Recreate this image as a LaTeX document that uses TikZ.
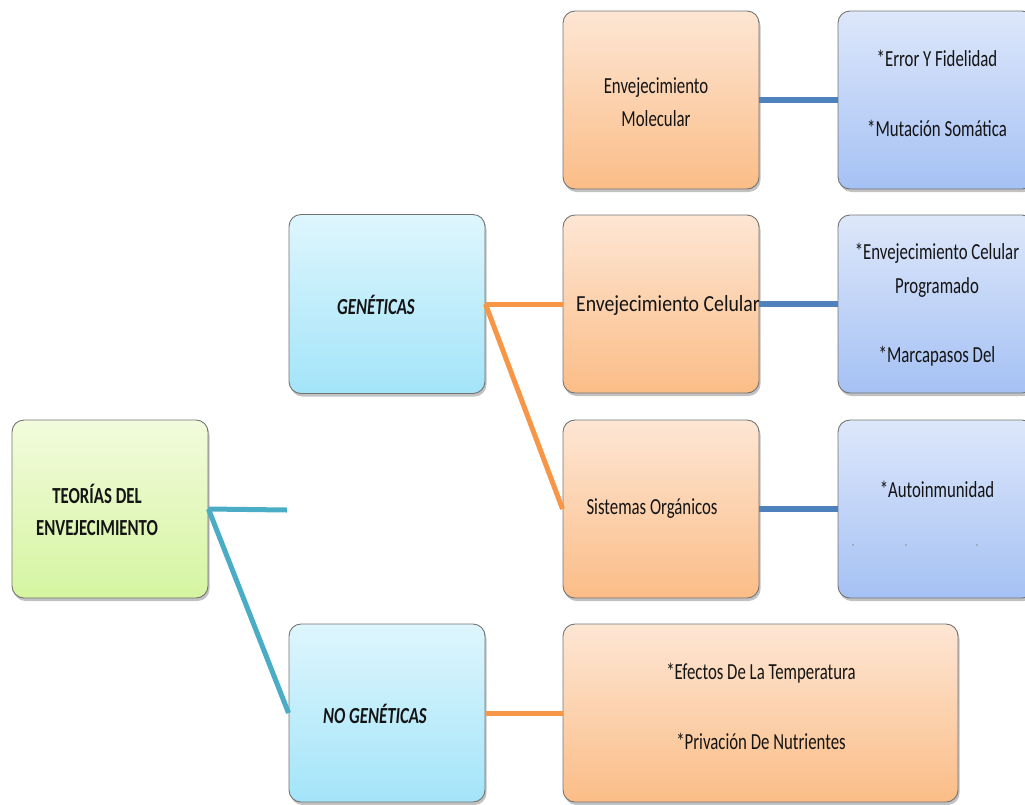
\documentclass[tikz,border=0pt]{standalone}
\usepackage{fontspec}
\setmainfont{Carlito}
\newfontfamily\cnd[FakeStretch=0.73]{Carlito}
\newfontfamily\cndw[FakeStretch=0.86]{Carlito}
\usetikzlibrary{shadows,calc}
\definecolor{grtop}{HTML}{F2FBDD}
\definecolor{grbot}{HTML}{D5F5A0}
\definecolor{cytop}{HTML}{DEF6FD}
\definecolor{cybot}{HTML}{A3E4F9}
\definecolor{ortop}{HTML}{FDE6D4}
\definecolor{orbot}{HTML}{FBBD87}
\definecolor{lvtop}{HTML}{DDE7FA}
\definecolor{lvbot}{HTML}{A5C1F4}
\definecolor{tealc}{HTML}{4BACC6}
\definecolor{orc}{HTML}{F79646}
\definecolor{blc}{HTML}{4F81BD}
\tikzset{
  box/.style={rounded corners=12pt, draw=black!55, line width=0.9pt,
    minimum width=196pt, minimum height=178pt, inner sep=0pt,
    drop shadow={shadow xshift=1.5pt, shadow yshift=-3pt, opacity=0.4, fill=black!60}},
  gbox/.style={box, top color=grtop, bottom color=grbot},
  cbox/.style={box, top color=cytop, bottom color=cybot},
  obox/.style={box, top color=ortop, bottom color=orbot},
  lbox/.style={box, top color=lvtop, bottom color=lvbot},
  txt/.style={font=\cnd\fontsize{23}{34}\selectfont, align=center, inner sep=0pt, text=black!92},
  tline/.style={draw=tealc, line width=5pt},
  oline/.style={draw=orc, line width=5pt},
  bline/.style={draw=blc, line width=6pt},
  dotm/.style={circle, fill=black!45, inner sep=0pt, minimum size=1.6pt},
}
\begin{document}
\begin{tikzpicture}[x=1pt,y=-1pt]
\useasboundingbox (0,0) rectangle (1025,804);
\clip (0,0) rectangle (1025,804);
% boxes
\node[gbox] (teo) at (110,509) {};
\node[cbox, minimum height=179pt] (gen) at (387,304) {};
\node[cbox] (nog) at (387,713) {};
\node[obox] (mol) at (661,100) {};
\node[obox] (cel) at (661,304) {};
\node[obox] (sis) at (661,509) {};
\node[obox, minimum width=395pt] (tmp) at (760.5,713) {};
\node[lbox] (r1) at (936,100) {};
\node[lbox] (r2) at (936,304) {};
\node[lbox] (r3) at (936,509) {};
% texts
\node[txt, font=\cnd\fontsize{23}{32}\selectfont\bfseries] (teot) at (97,510) {TEORÍAS DEL\\ENVEJECIMIENTO};
\node[txt, font=\cnd\fontsize{23}{34}\selectfont\bfseries\itshape] (gent) at (376,305) {GENÉTICAS};
\node[txt, font=\cnd\fontsize{23}{34}\selectfont\bfseries\itshape] (nogt) at (375,714) {NO GENÉTICAS};
\node[txt, font=\cnd\fontsize{23}{33}\selectfont] (molt) at (656,102) {Envejecimiento\\Molecular};
\node[txt, font=\cndw\fontsize{23}{34}\selectfont] (celt) at (668,305) {Envejecimiento Celular};
\node[txt] (sist) at (652,509) {Sistemas Orgánicos};
\node[txt] (tmpt) at (761,706) {*Efectos De La Temperatura\\[36pt]*Privación De Nutrientes};
\node[txt] (r1t) at (937,93) {*Error Y Fidelidad\\[36pt]*Mutación Somática};
\node[txt] (r2t) at (937,305) {*Envejecimiento Celular\\Programado\\[35pt]*Marcapasos Del};
\node[txt] (r3t) at (937,489) {*Autoinmunidad};
\node[dotm] (d1) at (853,545) {};
\node[dotm] (d2) at (906,545) {};
\node[dotm] (d3) at (977,545) {};
% connectors
\coordinate (stub) at (287,510);
\draw[tline] (teo.east) -- (stub);
\draw[tline] (teo.east) -- (nog.west);
\draw[oline] (gen.east) -- (cel.west);
\draw[oline] (gen.east) -- (sis.west);
\draw[oline] (nog.east) -- (tmp.west);
\draw[bline] (mol.east) -- (r1.west);
\draw[bline] (cel.east) -- (r2.west);
\draw[bline] (sis.east) -- (r3.west);
\end{tikzpicture}
\end{document}
